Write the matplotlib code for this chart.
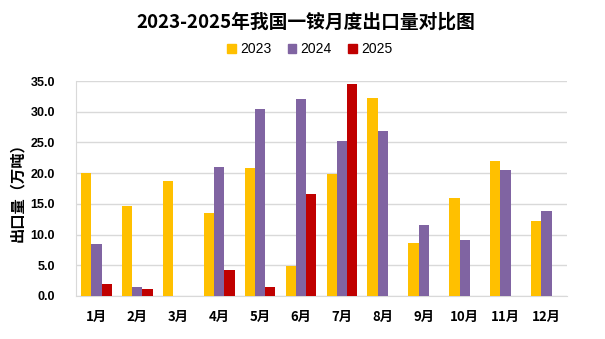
import numpy as np
import matplotlib
matplotlib.use('Agg')
import matplotlib.pyplot as plt
from matplotlib.patches import Patch

plt.rcParams['font.family'] = ['Noto Sans CJK SC', 'DejaVu Sans']

months = ['1月', '2月', '3月', '4月', '5月', '6月', '7月', '8月', '9月', '10月', '11月', '12月']
years = ['2023', '2024', '2025']
v2023 = [20.0, 14.7, 18.7, 13.5, 20.9, 4.9, 19.9, 32.3, 8.7, 16.0, 21.9, 12.2]
v2024 = [8.4, 1.4, 0, 21.0, 30.5, 32.0, 25.3, 26.8, 11.5, 9.1, 20.5, 13.8]
v2025 = [2.0, 1.2, 0, 4.2, 1.5, 16.6, 34.5, 0, 0, 0, 0, 0]
colors = ['#FFC000', '#8064A2', '#C00000']

fig = plt.figure(figsize=(6.05, 3.39), dpi=100)
ax = fig.add_axes([0.1256, 0.127, 0.8114, 0.634])

x = np.arange(len(months))
w = 0.25
for i, vals in enumerate([v2023, v2024, v2025]):
    ax.bar(x + (i - 1) * w, vals, width=w, color=colors[i], zorder=3)

ax.set_xlim(-0.5, len(months) - 0.5)
ax.set_ylim(0, 35)
ax.set_yticks(np.arange(0, 35.1, 5))
ax.set_yticklabels(['%.1f' % t for t in np.arange(0, 35.1, 5)],
                   fontsize=9, fontweight='bold', family='Liberation Sans')
ax.set_xticks(x)
ax.set_xticklabels(months, fontsize=9.5, fontweight='bold')
ax.tick_params(axis='both', length=0)
ax.tick_params(axis='x', pad=10)
ax.tick_params(axis='y', pad=15)
ax.grid(axis='y', color='#D9D9D9', linewidth=1, zorder=0)
for s in ['top', 'right']:
    ax.spines[s].set_visible(False)
ax.spines['left'].set_color('#D9D9D9')
ax.spines['bottom'].set_color('#D9D9D9')

ax.set_ylabel('出口量（万吨）', fontsize=11, fontweight='bold', labelpad=4)

fig.text(0.505, 0.935, '2023-2025年我国一铵月度出口量对比图', ha='center', va='center',
         fontsize=13.5, fontweight='bold')

handles = [Patch(color=c) for c in colors]
fig.legend(handles, years, loc='center', bbox_to_anchor=(0.512, 0.855), ncol=3,
           frameon=False, prop={'family': 'Liberation Sans', 'size': 10},
           handlelength=0.6, handleheight=0.6, handletextpad=0.3, columnspacing=1.2)

fig.savefig('out.png', dpi=100)
